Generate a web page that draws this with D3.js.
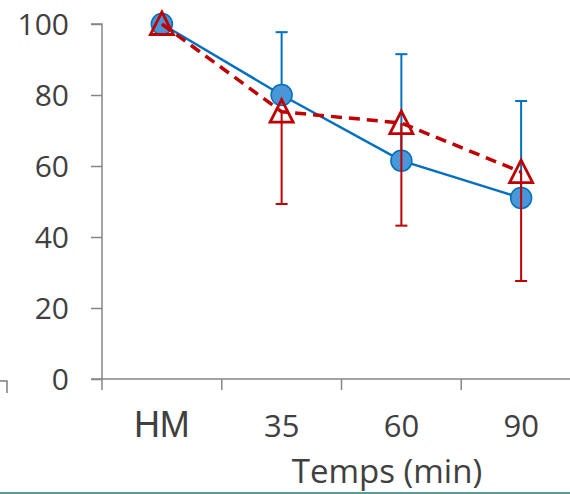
<!DOCTYPE html>
<html><head><meta charset="utf-8">
<script src="https://cdn.jsdelivr.net/npm/d3@7"></script>
<style>body{margin:0;background:#fff}svg{display:block}</style>
</head><body>
<script>
const categories = ["HM", "35", "60", "90"];
const yTicks = [0, 20, 40, 60, 80, 100];
const blueValues = [100, 80, 61.5, 51];
const blueErrPlus = [0, 17.7, 30, 27.3];
const redValues = [100, 75.3, 72.1, 58.3];
const redErrMinus = [0, 26, 28.9, 30.7];
const xTitle = "Temps (min)";

const W = 570, H = 494;
const svg = d3.select("body").append("svg").attr("width", W).attr("height", H);

const x = d3.scaleBand().domain(categories).range([102, 581]);
const y = d3.scaleLinear().domain([0, 100]).range([379, 24]);
const cx = c => x(c) + x.bandwidth() / 2;

const axisColor = "#868686", textColor = "#404040";
const blue = "#0070C0", red = "#C00000";
const font = "'Open Sans'";

// left stray frame corner
svg.append("path").attr("d", "M0,381H7V393").attr("fill", "none").attr("stroke", "#7f7f7f").attr("stroke-width", 1.5);
// bottom teal rule
svg.append("line").attr("x1", 0).attr("x2", W).attr("y1", 493).attr("y2", 493).attr("stroke", "#5b9a94").attr("stroke-width", 2);

// y axis
const ya = svg.append("g").attr("transform", "translate(102,0)")
  .call(d3.axisLeft(y).tickValues(yTicks).tickSize(11).tickPadding(22));
ya.select(".domain").attr("stroke", axisColor).attr("stroke-width", 1.5).attr("d", `M-11,${y(100)}H0V${y(0)}`);
ya.selectAll(".tick line").attr("stroke", axisColor).attr("stroke-width", 1.5);
ya.selectAll(".tick text").attr("fill", textColor).attr("font-family", font).attr("font-size", 30).attr("dy", "0.36em");

// x axis
const xa = svg.append("g").attr("transform", `translate(0,${y(0)})`)
  .call(d3.axisBottom(x).tickSize(0).tickPadding(0));
xa.select(".domain").remove();
svg.append("line").attr("x1", 91).attr("x2", W).attr("y1", y(0)).attr("y2", y(0)).attr("stroke", axisColor).attr("stroke-width", 1.5);
const bounds = categories.map(c => x(c)).concat([x(categories[categories.length-1]) + x.bandwidth()]);
svg.selectAll(".xtick").data(bounds.filter(b => b <= W)).enter().append("line")
  .attr("x1", d => d).attr("x2", d => d).attr("y1", y(0)).attr("y2", y(0) + 11)
  .attr("stroke", axisColor).attr("stroke-width", 1.5);
xa.selectAll(".tick text").attr("fill", textColor)
  .attr("font-family", d => d === "HM" ? "Liberation Sans" : font)
  .attr("font-size", d => d === "HM" ? 36 : 31)
  .attr("y", 58).attr("dy", 0);

svg.append("text").attr("x", 387).attr("y", 483).attr("text-anchor", "middle")
  .attr("fill", textColor).attr("font-family", font).attr("font-size", 33).text(xTitle);

// blue error bars (plus)
const be = svg.append("g");
categories.forEach((c, i) => {
  if (!blueErrPlus[i]) return;
  const top = y(blueValues[i] + blueErrPlus[i]);
  be.append("line").attr("x1", cx(c)).attr("x2", cx(c)).attr("y1", y(blueValues[i])).attr("y2", top).attr("stroke", blue).attr("stroke-width", 2);
  be.append("line").attr("x1", cx(c) - 6).attr("x2", cx(c) + 6).attr("y1", top).attr("y2", top).attr("stroke", blue).attr("stroke-width", 2);
});

// blue line + markers
const line = d3.line().x((d, i) => cx(categories[i])).y(d => y(d));
svg.append("path").datum(blueValues).attr("d", line).attr("fill", "none").attr("stroke", blue).attr("stroke-width", 2.5);
svg.selectAll(".bdot").data(blueValues).enter().append("circle")
  .attr("cx", (d, i) => cx(categories[i])).attr("cy", d => y(d)).attr("r", 10.5)
  .attr("fill", "#4a96d6").attr("stroke", blue).attr("stroke-width", 1.5);

// red error bars (minus)
const re = svg.append("g");
categories.forEach((c, i) => {
  if (!redErrMinus[i]) return;
  const bot = y(redValues[i] - redErrMinus[i]);
  re.append("line").attr("x1", cx(c)).attr("x2", cx(c)).attr("y1", y(redValues[i])).attr("y2", bot).attr("stroke", red).attr("stroke-width", 2);
  re.append("line").attr("x1", cx(c) - 6).attr("x2", cx(c) + 6).attr("y1", bot).attr("y2", bot).attr("stroke", red).attr("stroke-width", 2);
});

// red dashed line + triangles
svg.append("path").datum(redValues).attr("d", line).attr("fill", "none").attr("stroke", red).attr("stroke-width", 3.5).attr("stroke-dasharray", "11,7");
svg.selectAll(".rtri").data(redValues).enter().append("path")
  .attr("d", "M0,-12L11.5,10.5H-11.5Z").attr("transform", (d, i) => `translate(${cx(categories[i])},${y(d)})`)
  .attr("fill", "none").attr("stroke", red).attr("stroke-width", 2.8);
</script>
</body></html>
